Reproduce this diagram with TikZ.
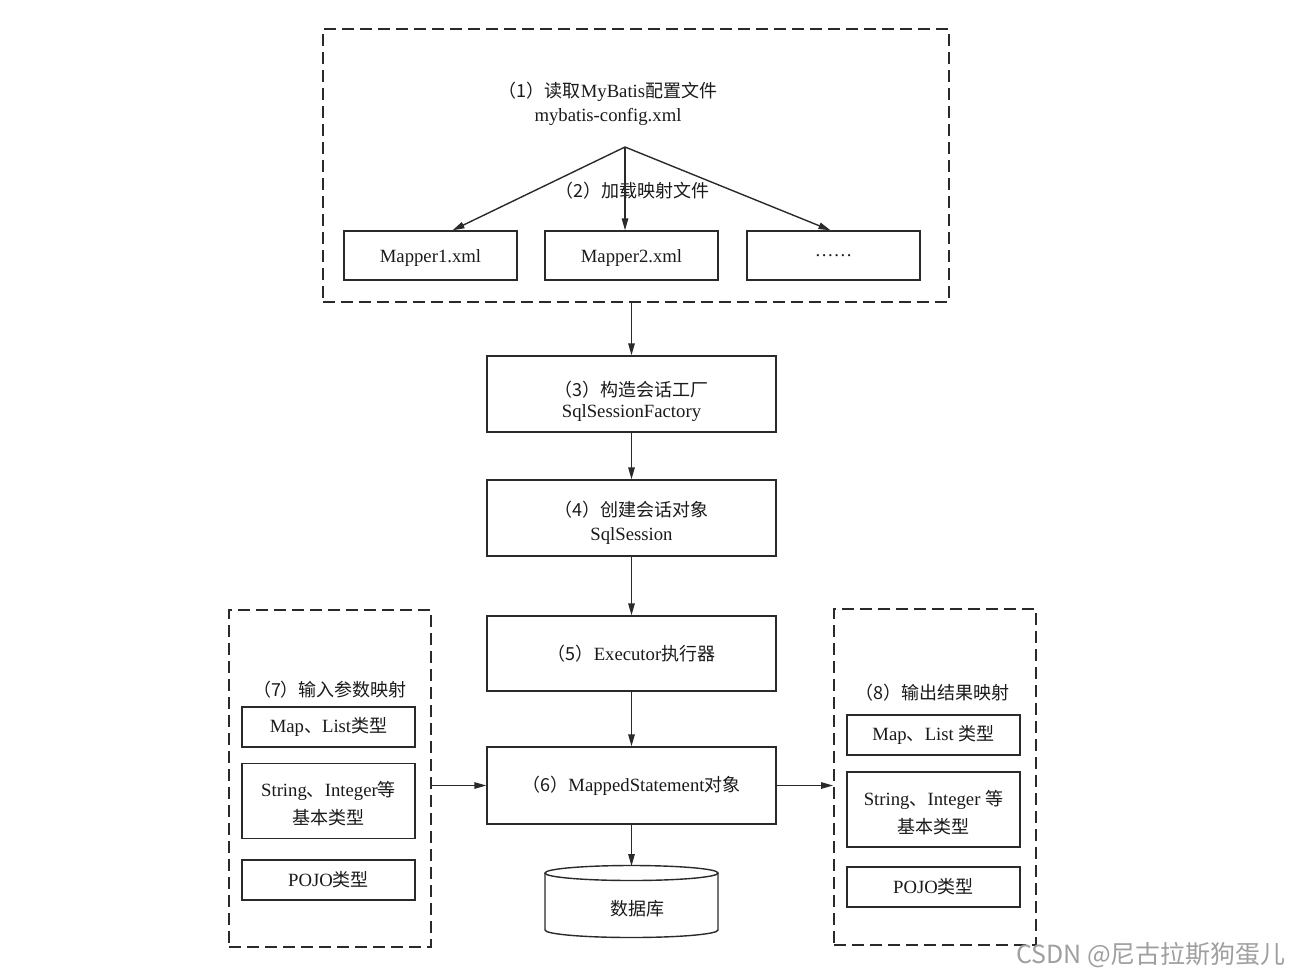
\documentclass[tikz,border=0pt]{standalone}
\usepackage{fontspec}
\setmainfont{Liberation Serif}
\newfontfamily\cjk{Noto Sans CJK SC}
\usetikzlibrary{arrows.meta,calc}
\newcommand\zh[1]{{\cjk\fontsize{18}{24}\selectfont #1}}
\definecolor{ln}{HTML}{2A2A2A}
\definecolor{tx}{HTML}{1A1A1A}
\tikzset{
  box/.style={draw=ln, line width=1.4pt, rectangle, inner sep=0pt, text=tx, align=center,
    font=\fontsize{18.7}{23}\selectfont},
  dbox/.style={draw=ln, line width=2pt, rectangle, dash pattern=on 12pt off 6pt, inner sep=0pt},
  lbl/.style={text=tx, align=center, inner sep=0pt, font=\fontsize{18.7}{24}\selectfont},
  arr/.style={draw=ln, line width=1.4pt, -{Triangle[length=12pt,width=6.5pt]}},
  wm/.style={text=gray!75, inner sep=0pt, font=\cjk\fontsize{25}{28}\selectfont}
}
\begin{document}
\begin{tikzpicture}[x=1pt,y=-1pt]
\useasboundingbox (0,0) rectangle (1301,978);
% top dashed group
\node[dbox, minimum width=626, minimum height=273] (top) at (636,165.5) {};
\node[lbl] (t1) at (608,104) {\zh{（1）读取}MyBatis\zh{配置文件}\\mybatis-config.xml};
\coordinate (apex) at (625,147);
\node[lbl] (t2) at (632,191) {\zh{（2）加载映射文件}};
\node[box, minimum width=173, minimum height=49] (m1) at (430.5,255.5) {};
\node[lbl] (m1t) at ($(m1)+(0,2)$) {Mapper1.xml};
\node[box, minimum width=173, minimum height=49] (m2) at (631.5,255.5) {};
\node[lbl] (m2t) at ($(m2)+(0,2)$) {Mapper2.xml};
\node[box, minimum width=173, minimum height=49] (m3) at (833.5,255.5) {……};
\draw[arr] (apex) -- ($(m1.north)+(22,0)$);
\draw[arr] (apex) -- (apex |- m2.north);
\draw[arr] (apex) -- ($(m3.north)+(-3,0)$);
% main chain
\node[box, minimum width=289, minimum height=76] (b3) at (631.5,394) {};
\node[lbl] (b3t) at ($(b3)+(0,7)$) {\zh{（3）构造会话工厂}\\[-3pt]SqlSessionFactory};
\node[box, minimum width=289, minimum height=76] (b4) at (631.5,518) {};
\node[lbl] (b4t) at ($(b4)+(0,5)$) {\zh{（4）创建会话对象}\\SqlSession};
\node[box, minimum width=289, minimum height=75] (b5) at (631.5,653.5) {\zh{（5）}Executor\zh{执行器}};
\node[box, minimum width=289, minimum height=77] (b6) at (631.5,785.5) {\zh{（6）}MappedStatement\zh{对象}};
\draw[arr] (top.south -| b3) -- (b3.north);
\draw[arr] (b3) -- (b4);
\draw[arr] (b4) -- (b5);
\draw[arr] (b5) -- (b6);
% database cylinder
\coordinate (dbtop) at (631.5,866);
\draw[ln, line width=1.4pt, fill=white] (545,873) -- (545,930) arc[start angle=180, end angle=0, x radius=86.5, y radius=7.5] -- (718,873);
\draw[ln, line width=1.4pt] (631.5,873) ellipse [x radius=86.5, y radius=7.5];
\node[lbl] (db) at (637,909) {\zh{数据库}};
\draw[arr] (b6) -- (dbtop);
% left group
\node[dbox, minimum width=202, minimum height=337] (L) at (330,778) {};
\node[lbl] (Lt) at (330,690) {\zh{（7）输入参数映射}};
\node[box, minimum width=173, minimum height=40] (La) at (328.5,727) {Map\zh{、}List\zh{类型}};
\node[box, minimum width=173, minimum height=75] (Lb) at (328.5,801) {};
\node[lbl] (Lbt) at ($(Lb)+(0,3)$) {String\zh{、}Integer\zh{等}\\[4pt]\zh{基本类型}};
\node[box, minimum width=173, minimum height=40] (Lc) at (328.5,880) {POJO\zh{类型}};
\draw[arr] (L.east |- b6) -- (b6.west);
% right group
\node[dbox, minimum width=202, minimum height=336] (R) at (935,777) {};
\node[lbl] (Rt) at (932,693) {\zh{（8）输出结果映射}};
\node[box, minimum width=173, minimum height=40] (Ra) at (933.5,735) {Map\zh{、}List \zh{类型}};
\node[box, minimum width=173, minimum height=75] (Rb) at (933.5,809.5) {};
\node[lbl] (Rbt) at ($(Rb)+(0,3)$) {String\zh{、}Integer \zh{等}\\[4pt]\zh{基本类型}};
\node[box, minimum width=173, minimum height=40] (Rc) at (933.5,887) {POJO\zh{类型}};
\draw[arr] (b6.east) -- (R.west |- b6);
% watermark
\node[wm, anchor=east] (wmk) at (1286,955) {CSDN @尼古拉斯狗蛋儿};
\end{tikzpicture}
\end{document}
